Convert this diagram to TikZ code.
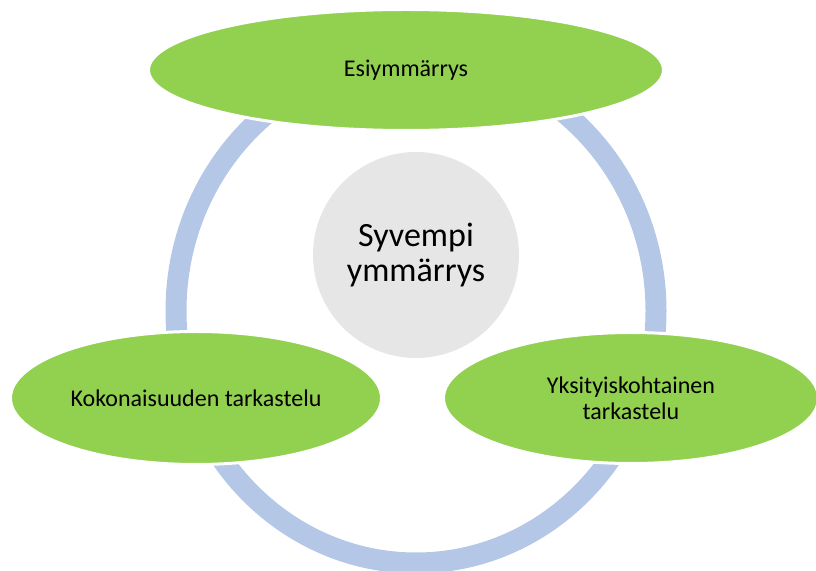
\documentclass[tikz,border=0pt]{standalone}
\usepackage{fontspec}
\setmainfont{Carlito}
\usetikzlibrary{shapes.geometric}
\definecolor{leafgreen}{HTML}{92D050}
\definecolor{ringblue}{HTML}{B4C7E7}
\definecolor{coregray}{HTML}{E6E6E6}

\begin{document}
\begin{tikzpicture}[x=1pt, y=1pt,
    ring/.style  ={ellipse, draw=ringblue, line width=21pt, inner sep=0pt},
    phase/.style ={ellipse, fill=leafgreen, draw=white, line width=3pt,
                   inner sep=0pt, align=center,
                   font=\fontsize{24}{26}\selectfont},   % green phase
    core/.style  ={circle, fill=coregray, draw=none, minimum size=206pt,
                   inner sep=0pt, align=center,
                   font=\fontsize{34}{35}\selectfont}    % centre
  ]
    \useasboundingbox (0,0) rectangle (816,570);

    % --- cycle ring, behind everything ---
    \node[ring, minimum width=480pt, minimum height=504pt] (cycle) at (416,259) {};

    % --- centre ---
    \node[core] (deep) at (416,315) {Syvempi\\ymmärrys};

    % --- the three phases ---
    \node[phase, minimum width=515pt, minimum height=121pt] (pre)    at (406,500) {Esiymmärrys};
    \node[phase, minimum width=371pt, minimum height=133pt] (whole)  at (196,172) {Kokonaisuuden tarkastelu};
    \node[phase, minimum width=375pt, minimum height=131pt] (detail) at (631,172) {Yksityiskohtainen\\tarkastelu};
\end{tikzpicture}
\end{document}
